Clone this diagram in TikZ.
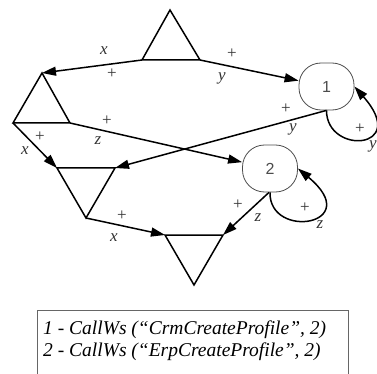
\documentclass[tikz,border=0pt]{standalone}
\usepackage{fontspec}
\setmainfont{Liberation Serif}
\newfontfamily\statefont{Liberation Sans}
\usetikzlibrary{arrows.meta}
\begin{document}
\begin{tikzpicture}[x=1pt,y=-1pt,
  wire/.style={line width=1.5pt},
  edge/.style={wire, -{Triangle[length=14pt,width=9pt]}},
  tri/.style={wire, line join=miter},
  state/.style={draw=black!70, line width=0.8pt, rounded corners=22pt,
    minimum width=55pt, minimum height=47pt, inner sep=0pt,
    font=\statefont\fontsize{16}{16}\selectfont, text=black!70},
  var/.style={inner sep=0pt, font=\fontsize{17}{17}\selectfont\itshape, text=black!80},
  sgn/.style={inner sep=0pt, font=\fontsize{17}{17}\selectfont, text=black!80},
  legendbox/.style={draw=black!60, line width=0.8pt},
  legendline/.style={anchor=base west, inner sep=0pt,
    font=\fontsize{19.5}{19.5}\selectfont\itshape},
]
\useasboundingbox (0,0) rectangle (377,374);
\clip (0,0) rectangle (377,374);

% triangle vertices
\coordinate (Ttop) at (170,10);  \coordinate (Tl) at (142,60);  \coordinate (Tr) at (200,60);
\coordinate (Ltop) at (42,73);   \coordinate (Ll) at (13,123);  \coordinate (Lr) at (70,123);
\coordinate (Ml) at (57,168);    \coordinate (Mr) at (115,168); \coordinate (Mbot) at (86,218);
\coordinate (Bl) at (165,235);   \coordinate (Br) at (223,235); \coordinate (Bbot) at (194,285);

\draw[tri] (Ttop) -- (Tl) -- (Tr) -- cycle;
\draw[tri] (Ltop) -- (Ll) -- (Lr) -- cycle;
\draw[tri] (Ml) -- (Mr) -- (Mbot) -- cycle;
\draw[tri] (Bl) -- (Br) -- (Bbot) -- cycle;

% states
\node[state] (n1) at (326.5,86.5) {1};
\node[state] (n2) at (270,168.5) {2};

% connectors
\draw[edge] (Tl) -- (Ltop);
\draw[edge] (Tr) -- (n1);
\draw[edge] (n1.south) -- (Mr);
\draw[edge] (Lr) -- (n2);
\draw[edge] (Ll) -- (Ml);
\draw[edge] (Mbot) -- (Bl);
\draw[edge] ([xshift=-1pt]n2.south) -- (Br);
\draw[edge] (n1.south) .. controls +(0,45) and +(56,63.5) .. (n1.east);
\draw[edge] (n2.south) .. controls +(-1,48) and +(68,56.5) .. (n2.east);

% labels
\node[var] (lx1) at (104,51) {x};
\node[sgn] (lp1) at (112,74) {+};
\node[sgn] (lp2) at (232,54) {+};
\node[var] (ly2) at (222,78) {y};
\node[sgn] (lp3) at (107,121) {+};
\node[var] (lz3) at (98,141) {z};
\node[sgn] (lp4) at (40,137) {+};
\node[var] (lx4) at (25,151) {x};
\node[sgn] (lp5) at (122,216) {+};
\node[var] (lx5) at (114,238) {x};
\node[sgn] (lp6) at (238,205) {+};
\node[var] (lz6) at (258,218) {z};
\node[sgn] (lp7) at (305,208) {+};
\node[var] (lz7) at (320,225) {z};
\node[sgn] (lp8) at (360,129) {+};
\node[var] (ly8) at (373,146) {y};
\node[sgn] (lp9) at (286,109) {+};
\node[var] (ly9) at (293,129) {y};

% legend
\draw[legendbox] (37,310) rectangle (348,395);
\node[legendline] (leg1) at (43,334) {1 - CallWs (“CrmCreateProfile”, 2)};
\node[legendline] (leg2) at (43,356) {2 - CallWs (“ErpCreateProfile”, 2)};
\end{tikzpicture}
\end{document}
